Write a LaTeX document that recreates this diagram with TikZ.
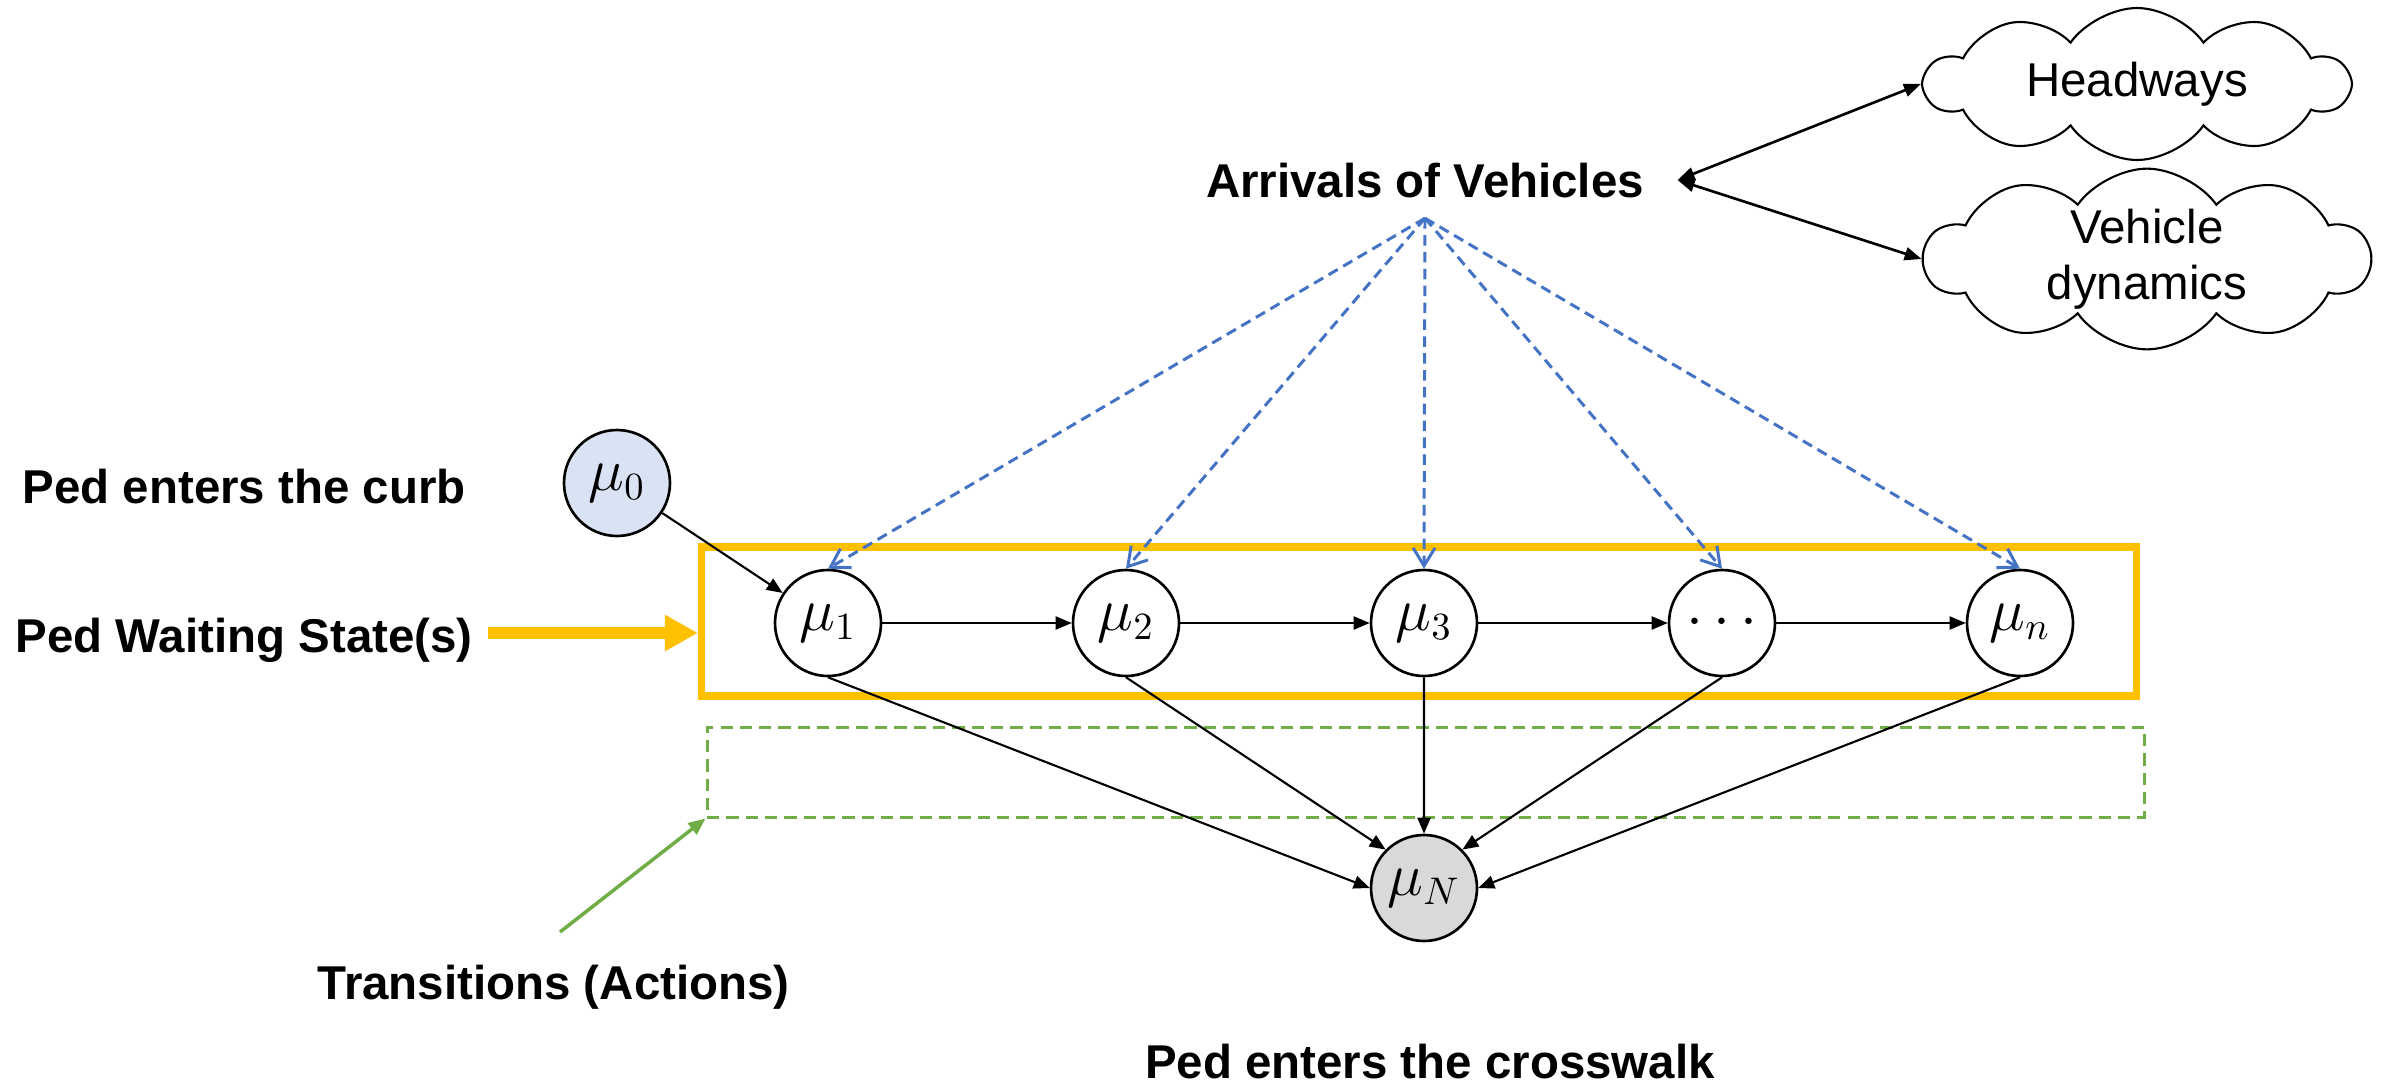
\documentclass[tikz,border=0pt]{standalone}
\usepackage{fontspec}
\setmainfont{Liberation Sans}
\usetikzlibrary{arrows.meta,shapes.symbols}

\definecolor{ppyellow}{HTML}{FFC000}
\definecolor{ppblue}{HTML}{4472C4}
\definecolor{ppgreen}{HTML}{70AD47}
\definecolor{ppstart}{HTML}{DAE3F3}
\definecolor{ppend}{HTML}{D9D9D9}

\begin{document}
\begin{tikzpicture}[
    state/.style={circle, draw, line width=0.75pt, minimum size=1.06cm, inner sep=0pt,
                  font=\fontsize{16}{18}\selectfont},
    sidetext/.style={font=\fontsize{13.5}{16}\selectfont\bfseries, inner sep=0pt},
    bubble/.style={cloud, draw, line width=0.6pt, cloud puffs=10, cloud puff arc=110,
                   cloud ignores aspect, inner sep=0pt, align=center,
                   font=\fontsize{13.5}{16}\selectfont},
    trans/.style={-{Triangle[length=0.16cm,width=0.13cm]}, line width=0.6pt},
    arrival/.style={ppblue, line width=0.85pt, dash pattern=on 3pt off 1.8pt,
                    -{Straight Barb[length=0.18cm,width=0.22cm]}},
  ]
  \useasboundingbox (0,0) rectangle (23.84,10.84);

  % ---------- Side labels ----------
  \node[sidetext, anchor=base west] (curb) at (0.22,5.81) {Ped enters the curb};
  \node[sidetext, anchor=base west] (wait) at (0.15,4.32) {Ped Waiting State(s)};
  \node[sidetext, anchor=base west] (trans) at (3.17,0.85) {Transitions (Actions)};
  \node[sidetext, anchor=base] (cross) at (14.30,0.06) {Ped enters the crosswalk};
  \node[sidetext, anchor=base] (arr) at (14.25,8.87) {Arrivals of Vehicles};

  % ---------- Clouds ----------
  \node[bubble, minimum width=4.23cm, minimum height=1.52cm] (hw) at (21.37,10.00) {Headways};
  \node[bubble, minimum width=4.45cm, minimum height=1.52cm] (vd) at (21.47,8.25) {Vehicle\\dynamics};

  % ---------- Boxes ----------
  \node[draw=ppyellow, line width=2pt, minimum width=14.35cm, minimum height=1.49cm] (ybox) at (14.19,4.625) {};
  \node[draw=ppgreen, line width=0.85pt, dash pattern=on 3.5pt off 2pt,
        minimum width=14.37cm, minimum height=0.90cm] (gbox) at (14.255,3.12) {};

  % ---------- States ----------
  \node[state, fill=ppstart] (m0) at (6.17,6.01) {$\mu_0$};
  \foreach \i/\lab in {1/\mu_1, 2/\mu_2, 3/\mu_3, 4/\cdots, 5/\mu_n}
    \node[state, fill=white] (m\i) at ({8.28+2.98*(\i-1)},4.61) {$\lab$};
  \node[state, fill=ppend] (mN) at (14.24,1.96) {$\mu_N$};

  % ---------- Connectors ----------
  \coordinate (arrfoot) at ([yshift=-0.2cm]arr.south);
  \coordinate (arrtip) at ([xshift=0.33cm]arr.east);
  \coordinate (waitfoot) at (4.88,4.51);
  \coordinate (transfoot) at (5.60,1.52);

  \draw[line width=0.75pt, {Triangle[length=0.17cm,width=0.13cm]}-{Triangle[length=0.17cm,width=0.13cm]}]
    (arrtip) -- (hw.west);
  \draw[line width=0.75pt, {Triangle[length=0.17cm,width=0.13cm]}-{Triangle[length=0.17cm,width=0.13cm]}]
    (arrtip) -- (vd.west);

  \foreach \i in {1,...,5}
    \draw[arrival] (arrfoot) -- (m\i.north);

  \draw[trans] (m0) -- (m1);
  \foreach \a/\b in {1/2, 2/3, 3/4, 4/5}
    \draw[trans] (m\a) -- (m\b);

  \draw[trans] (m1.south) -- (mN.west);
  \draw[trans] (m2.south) -- (mN.north west);
  \draw[trans] (m3) -- (mN);
  \draw[trans] (m4.south) -- (mN.north east);
  \draw[trans] (m5.south) -- (mN.east);

  % waiting-state pointer
  \draw[ppyellow, line width=3.2pt, -{Triangle[length=0.33cm,width=0.34cm]}]
    (waitfoot) -- (waitfoot -| ybox.west);
  % transitions pointer
  \draw[ppgreen, line width=1pt, -{Triangle[length=0.17cm,width=0.14cm]}]
    (transfoot) -- (gbox.south west);
\end{tikzpicture}
\end{document}
